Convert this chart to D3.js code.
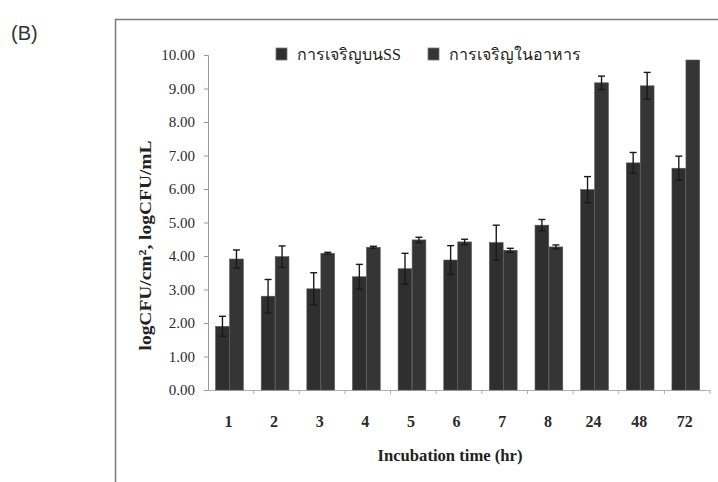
<!DOCTYPE html>
<html>
<head>
<meta charset="utf-8">
<script src="https://cdn.jsdelivr.net/npm/d3@7"></script>
<style>
  body { margin: 0; background: #fff; }
  svg { display: block; }
  .tick text { font-family: "Liberation Serif", "DejaVu Serif", serif; font-size: 15px; fill: #2a2a2a; }
  .axis-title { font-family: "Liberation Serif", "DejaVu Serif", serif; font-weight: bold; fill: #222; }
</style>
</head>
<body>
<svg id="chart"></svg>
<script>
// data
const hours = ['1', '2', '3', '4', '5', '6', '7', '8', '24', '48', '72']
const seriesNames = ['การเจริญบนSS', 'การเจริญในอาหาร']
const ssMean = [1.90, 2.80, 3.02, 3.38, 3.62, 3.88, 4.40, 4.92, 5.98, 6.78, 6.62]
const ssErr  = [0.30, 0.50, 0.48, 0.37, 0.46, 0.43, 0.52, 0.17, 0.39, 0.31, 0.36]
const foodMean = [3.91, 3.98, 4.08, 4.26, 4.48, 4.42, 4.17, 4.27, 9.17, 9.08, 9.85]
const foodErr  = [0.27, 0.32, 0.03, 0.03, 0.08, 0.08, 0.06, 0.06, 0.20, 0.40, 0.00]
const yTicks = [0, 1, 2, 3, 4, 5, 6, 7, 8, 9, 10]

const W = 718, H = 482
const margin = {top: 55, right: 8, bottom: 92, left: 208}
const width = W - margin.left - margin.right
const height = H - margin.top - margin.bottom

const rows = []
hours.forEach((h, i) => {
    rows.push({hour: h, series: seriesNames[0], v: ssMean[i], e: ssErr[i]})
    rows.push({hour: h, series: seriesNames[1], v: foodMean[i], e: foodErr[i]})
})

const svg = d3.select('#chart').attr('width', W).attr('height', H)

// outer frame (left and top edges of the figure panel)
svg.append('path')
    .attr('d', `M115.5,${H} V19.5 H${W}`)
    .attr('fill', 'none')
    .attr('stroke', '#7a7a7a')
    .attr('stroke-width', 1.5)

svg.append('text')
    .attr('x', 11).attr('y', 40)
    .style('font-family', 'Liberation Sans, Arial, sans-serif')
    .style('font-size', '20px')
    .attr('fill', '#333')
    .text('(B)')

const chart = svg.append('g')
    .attr('transform', `translate(${margin.left},${margin.top})`)

const x0 = d3.scaleBand().domain(hours).range([0, width]).padding(0)
const x1 = d3.scaleBand().domain(seriesNames)
    .range([x0.bandwidth() * 0.16, x0.bandwidth() * 0.78]).padding(0.02)
const y = d3.scaleLinear().domain([0, 10]).range([height, 0])

const colors = d3.scaleOrdinal().domain(seriesNames).range(['#2f2f2f', '#353535'])

// y axis
const yAxisG = chart.append('g')
    .call(d3.axisLeft(y).tickValues(yTicks).tickFormat(d3.format('.2f')).tickSize(4).tickPadding(9))
yAxisG.select('.domain').attr('stroke', '#9a9a9a')
yAxisG.selectAll('.tick line').attr('stroke', '#9a9a9a')

// x axis: ticks on the category boundaries
const xAxisG = chart.append('g')
    .attr('transform', `translate(0,${height})`)
    .call(d3.axisBottom(x0).tickSize(0).tickPadding(26))
xAxisG.select('.domain').attr('stroke', '#b0b0b0')
xAxisG.selectAll('.tick text').attr('dx', '-0.15em').style('font-size', '16px').style('font-weight', 'bold')
chart.append('g')
    .selectAll('line')
    .data(hours)
    .join('line')
    .attr('x1', d => x0(d) + x0.bandwidth())
    .attr('x2', d => x0(d) + x0.bandwidth())
    .attr('y1', height)
    .attr('y2', height + 4)
    .attr('stroke', '#b0b0b0')

// bars
chart.append('g')
    .selectAll('rect')
    .data(rows)
    .join('rect')
    .attr('x', d => x0(d.hour) + x1(d.series))
    .attr('y', d => y(d.v))
    .attr('width', x1.bandwidth())
    .attr('height', d => height - y(d.v))
    .attr('fill', d => colors(d.series))
    .attr('stroke', '#555')
    .attr('stroke-width', 0.6)

// error bars
const eb = chart.append('g')
    .selectAll('g')
    .data(rows.filter(d => d.e > 0))
    .join('g')
    .attr('stroke', '#1a1a1a')
    .attr('stroke-width', 1.4)
const cx = d => x0(d.hour) + x1(d.series) + x1.bandwidth() / 2
eb.append('line')
    .attr('x1', cx).attr('x2', cx)
    .attr('y1', d => y(d.v - d.e)).attr('y2', d => y(d.v + d.e))
eb.append('line')
    .attr('x1', d => cx(d) - 3.5).attr('x2', d => cx(d) + 3.5)
    .attr('y1', d => y(d.v + d.e)).attr('y2', d => y(d.v + d.e))
eb.append('line')
    .attr('x1', d => cx(d) - 3.5).attr('x2', d => cx(d) + 3.5)
    .attr('y1', d => y(d.v - d.e)).attr('y2', d => y(d.v - d.e))

// axis titles
chart.append('text')
    .attr('class', 'axis-title')
    .attr('transform', `translate(-57,${height / 2 + 23}) rotate(-90)`)
    .attr('text-anchor', 'middle')
    .attr('textLength', 210)
    .attr('lengthAdjust', 'spacingAndGlyphs')
    .style('font-size', '17px')
    .text('logCFU/cm², logCFU/mL')

chart.append('text')
    .attr('class', 'axis-title')
    .attr('x', 242).attr('y', height + 71)
    .attr('text-anchor', 'middle')
    .attr('textLength', 145)
    .attr('lengthAdjust', 'spacingAndGlyphs')
    .style('font-size', '17px')
    .text('Incubation time (hr)')

// legend
const legend = svg.append('g')
    .attr('transform', 'translate(276,48)')
const legendItems = legend.selectAll('g')
    .data(seriesNames)
    .join('g')
    .attr('transform', (d, i) => `translate(${i * 152},0)`)
legendItems.append('rect')
    .attr('width', 11).attr('height', 12)
    .attr('fill', d => colors(d))
    .attr('stroke', '#777')
    .attr('stroke-width', 0.8)
legendItems.append('text')
    .attr('x', 21).attr('y', 12)
    .style('font-family', 'Liberation Serif, serif')
    .style('font-size', '16px')
    .attr('fill', '#222')
    .text(d => d)
</script>
</body>
</html>
